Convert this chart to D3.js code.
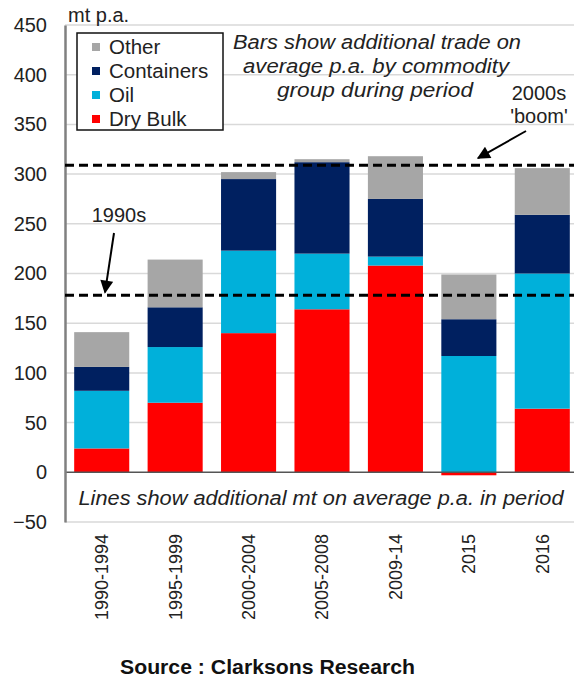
<!DOCTYPE html>
<html>
<head>
<meta charset="utf-8">
<script src="https://cdn.jsdelivr.net/npm/d3@7/dist/d3.min.js"></script>
<style>
html,body{margin:0;padding:0;background:#fff;}
svg{display:block;font-family:"Liberation Sans",Arial,sans-serif;}
</style>
</head>
<body>
<svg id="chart" width="574" height="682"></svg>
<script>
// ---- data ----
const categories = ["1990-1994","1995-1999","2000-2004","2005-2008","2009-14","2015","2016"];
const dryBulk    = [24, 70, 140, 164, 208, -3, 64];
const oil        = [58, 56, 83, 56, 9, 117, 136];
const containers = [24, 40, 72, 92, 58, 37, 59];
const other      = [35, 48, 7, 3, 43, 45, 47];
const seriesNames = ["Dry Bulk","Oil","Containers","Other"];
const seriesColors = ["#ff0000","#00b0da","#002060","#a6a6a6"];
const yTicks = [-50,0,50,100,150,200,250,300,350,400,450];
const refLines = [309, 178];   // 2000s boom, 1990s

const rows = categories.map((c,i)=>({cat:c,"Dry Bulk":dryBulk[i],"Oil":oil[i],"Containers":containers[i],"Other":other[i]}));

const svg = d3.select("#chart");
const x = d3.scaleBand().domain(categories).range([65,579]).paddingInner(0.25).paddingOuter(0.125);
const y = d3.scaleLinear().domain([-50,450]).range([522,25]);
const color = d3.scaleOrdinal().domain(seriesNames).range(seriesColors);

// gridlines
svg.append("g").selectAll("line").data(yTicks.filter(d=>d!==0)).join("line")
  .attr("x1",65).attr("x2",579).attr("y1",d=>y(d)).attr("y2",d=>y(d))
  .attr("stroke","#d9d9d9").attr("stroke-width",1.5);

// bars
const stack = d3.stack().keys(seriesNames).offset(d3.stackOffsetDiverging);
const layers = stack(rows);
svg.append("g").selectAll("g").data(layers).join("g")
  .attr("fill",d=>color(d.key))
  .selectAll("rect").data(d=>d).join("rect")
  .attr("x",d=>x(d.data.cat)).attr("width",x.bandwidth())
  .attr("y",d=>y(Math.max(d[0],d[1]))).attr("height",d=>Math.abs(y(d[0])-y(d[1])));

// zero line
svg.append("line").attr("x1",65).attr("x2",579).attr("y1",y(0)).attr("y2",y(0))
  .attr("stroke","#555").attr("stroke-width",1.5);

// y axis
const yAxis = d3.axisLeft(y).tickValues(yTicks).tickSize(0).tickPadding(18);
const ga = svg.append("g").attr("transform","translate(65,0)").call(yAxis);
ga.select(".domain").attr("stroke","#808080").attr("stroke-width",2.5);
ga.selectAll("text").attr("font-size",20).attr("fill","#222").attr("font-family","Liberation Sans, Arial, sans-serif");

// x axis labels
const xAxis = d3.axisBottom(x).tickSize(0).tickPadding(0);
const gx = svg.append("g").attr("transform","translate(0,534)").call(xAxis);
gx.select(".domain").remove();
gx.selectAll("text").attr("font-size",18).attr("fill","#222")
  .attr("font-family","Liberation Sans, Arial, sans-serif")
  .attr("transform","rotate(-90)").attr("text-anchor","end")
  .attr("x",0).attr("y",0).attr("dy","0.36em").attr("dx",0);

// reference dashed lines
svg.append("g").selectAll("line").data(refLines).join("line")
  .attr("x1",65).attr("x2",579).attr("y1",d=>y(d)).attr("y2",d=>y(d))
  .attr("stroke","#000").attr("stroke-width",3).attr("stroke-dasharray","9,5");

// arrows
const defs = svg.append("defs");
defs.append("marker").attr("id","ah").attr("viewBox","0 0 10 10").attr("refX",9).attr("refY",5)
  .attr("markerWidth",7).attr("markerHeight",6.5).attr("orient","auto").attr("markerUnits","strokeWidth")
  .append("path").attr("d","M0,0 L10,5 L0,10 Z").attr("fill","#000");
svg.append("line").attr("x1",114).attr("y1",233).attr("x2",105).attr("y2",y(178)-3)
  .attr("stroke","#000").attr("stroke-width",2).attr("marker-end","url(#ah)");
svg.append("line").attr("x1",526).attr("y1",131).attr("x2",478).attr("y2",y(309)-7)
  .attr("stroke","#000").attr("stroke-width",2).attr("marker-end","url(#ah)");

// texts
const T = (x0,y0,s,opts={})=>{
  const t = svg.append("text").attr("x",x0).attr("y",y0).text(s)
    .attr("font-size",opts.size||20).attr("fill",opts.fill||"#222")
    .attr("text-anchor",opts.anchor||"start");
  if(opts.italic) t.attr("font-style","italic");
  if(opts.bold) t.attr("font-weight","bold");
  if(opts.len) t.attr("textLength",opts.len).attr("lengthAdjust","spacingAndGlyphs");
  return t;
};
T(68,22,"mt p.a.");
T(377,49,"Bars show additional trade on",{italic:true,anchor:"middle",len:288});
T(376,73,"average p.a. by commodity",{italic:true,anchor:"middle",len:266});
T(375,97,"group during period",{italic:true,anchor:"middle",len:196});
T(539,100,"2000s",{anchor:"middle"});
T(539,123,"'boom'",{anchor:"middle"});
T(119,222,"1990s",{anchor:"middle"});
T(321,505,"Lines show additional mt on average p.a. in period",{italic:true,anchor:"middle",len:485});
T(120,674,"Source : Clarksons Research",{bold:true,len:295,fill:"#111"});

// legend
const lg = svg.append("g");
lg.append("rect").attr("x",77).attr("y",33).attr("width",146).attr("height",97)
  .attr("fill","#fff").attr("stroke","#111").attr("stroke-width",1.5);
const legOrder = ["Other","Containers","Oil","Dry Bulk"];
const li = lg.selectAll("g.li").data(legOrder).join("g").attr("class","li")
  .attr("transform",(d,i)=>`translate(0,${47+i*24})`);
li.append("rect").attr("x",92).attr("y",-4).attr("width",8).attr("height",8).attr("fill",d=>color(d));
li.append("text").attr("x",109).attr("y",0).attr("dy","0.36em").attr("font-size",20.5).attr("fill","#222").text(d=>d);
</script>
</body>
</html>
